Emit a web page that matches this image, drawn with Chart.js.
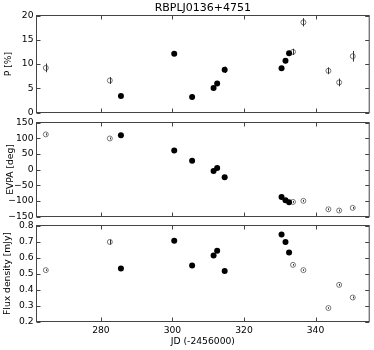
<!DOCTYPE html>
<html>
<head>
<meta charset="utf-8">
<script src="https://cdn.jsdelivr.net/npm/chart.js@4.4.0/dist/chart.umd.min.js"></script>
<style>
    html, body { margin: 0; padding: 0; background: #fff; }
    #wrap { position: relative; width: 374px; height: 350px; }
    #wrap canvas { position: absolute; left: 0; top: 0; }
</style>
</head>
<body>
<div id="wrap">
    <canvas id="polChart" width="374" height="350"></canvas>
    <canvas id="evpaChart" width="374" height="350"></canvas>
    <canvas id="fluxChart" width="374" height="350"></canvas>
</div>
<script>
// observing epochs, JD - 2456000
const jd = [264.6, 282.5, 285.6, 300.5, 305.5, 311.5, 312.5, 314.6, 330.5, 331.6, 332.6, 333.7, 336.6, 343.6, 346.6, 350.4];
// 1 = filled marker, 0 = open marker
const filled = [0, 0, 1, 1, 1, 1, 1, 1, 1, 1, 1, 0, 0, 0, 0, 0];

const pol = [9.2, 6.6, 3.4, 12.1, 3.2, 5.05, 6.0, 8.8, 9.1, 10.65, 12.2, 12.5, 18.6, 8.6, 6.2, 11.6];
const polErr = [0.9, 0.7, 0.4, 0.4, 0.4, 0.4, 0.5, 0.65, 0.5, 0.5, 0.5, 0.65, 0.85, 0.7, 0.8, 1.1];

const evpa = [112, 99, 109, 61, 28, -5, 5, -25, -88, -98, -104.5, -103.5, -100, -127, -131, -122.5];
const evpaErr = [3, 3, 2, 2, 2, 2, 2, 2, 2, 2, 2, 3, 3, 3, 3, 3];

const flux = [0.521, 0.697, 0.531, 0.704, 0.55, 0.613, 0.642, 0.515, 0.743, 0.697, 0.631, 0.554, 0.521, 0.284, 0.429, 0.35];
const fluxErr = [0.005, 0.015, 0.005, 0.005, 0.005, 0.005, 0.005, 0.005, 0.005, 0.005, 0.005, 0.005, 0.005, 0.005, 0.006, 0.006];

const xTicks = [280, 300, 320, 340];
const polTicks = [0, 5, 10, 15, 20];
const evpaTicks = [-150, -100, -50, 0, 50, 100, 150];
const evpaTickLabels = ["\u2212150", "\u2212100", "\u221250", "0", "50", "100", "150"];
const fluxTicks = [0.2, 0.3, 0.4, 0.5, 0.6, 0.7, 0.8];
const fluxTickLabels = ["0.2", "0.3", "0.4", "0.5", "0.6", "0.7", "0.8"];

const FONT = "'DejaVu Sans', sans-serif";
const FRAME = "#444";

// matplotlib-like box with inward ticks on all four sides
const framePlugin = {
    id: "frame",
    afterDraw(chart) {
        const { ctx, chartArea: a, scales } = chart;
        const len = 4;

        ctx.save();
        ctx.strokeStyle = FRAME;
        ctx.lineWidth = 1;
        ctx.strokeRect(a.left, a.top, a.right - a.left, a.bottom - a.top);

        ctx.beginPath();
        scales.x.ticks.forEach((t) => {
            const x = Math.round(scales.x.getPixelForValue(t.value)) + 0.5;
            ctx.moveTo(x, a.top);
            ctx.lineTo(x, a.top + len);
            ctx.moveTo(x, a.bottom);
            ctx.lineTo(x, a.bottom - len);
        });
        scales.y.ticks.forEach((t) => {
            const y = Math.round(scales.y.getPixelForValue(t.value)) + 0.5;
            ctx.moveTo(a.left, y);
            ctx.lineTo(a.left + len, y);
            ctx.moveTo(a.right, y);
            ctx.lineTo(a.right - len, y);
        });
        ctx.stroke();
        ctx.restore();
    },
};

// vertical error bars drawn through the library's scales
const errorBarPlugin = {
    id: "errorBars",
    afterDatasetsDraw(chart) {
        const { ctx, scales } = chart;

        ctx.save();
        ctx.lineWidth = 1;
        chart.data.datasets.forEach((ds) => {
            ctx.strokeStyle = ds.errColor;
            ctx.beginPath();
            ds.data.forEach((p) => {
                const x = Math.round(scales.x.getPixelForValue(p.x)) + 0.5;
                ctx.moveTo(x, scales.y.getPixelForValue(p.y - p.err));
                ctx.lineTo(x, scales.y.getPixelForValue(p.y + p.err));
            });
            ctx.stroke();
        });
        ctx.restore();
    },
};

function points(values, errors, kind) {
    return jd
        .map((x, i) => ({ x: x, y: values[i], err: errors[i], f: filled[i] }))
        .filter((p) => p.f === kind);
}

function makePanel(id, cfg) {
    const yTickLabels = cfg.tickLabels;

    new Chart(document.getElementById(id), {
        type: "scatter",

        data: {
            datasets: [
                {
                    data: points(cfg.values, cfg.errors, 1),
                    pointRadius: 3,
                    pointBackgroundColor: "#000",
                    pointBorderColor: "#000",
                    pointBorderWidth: 0,
                    errColor: "#000",
                },
                {
                    data: points(cfg.values, cfg.errors, 0),
                    pointRadius: 2.5,
                    pointBackgroundColor: "rgba(255,255,255,0)",
                    pointBorderColor: "#555",
                    pointBorderWidth: 0.8,
                    errColor: "#333",
                },
            ],
        },

        options: {
            responsive: false,
            animation: false,
            events: [],

            layout: {
                padding: cfg.padding,
            },

            plugins: {
                legend: { display: false },
                tooltip: { enabled: false },
                title: cfg.title
                    ? {
                          display: true,
                          fullSize: false,
                          text: cfg.title,
                          color: "#000",
                          font: { family: FONT, size: 11, weight: "normal" },
                          padding: { top: 1.6, bottom: 0.7 },
                      }
                    : { display: false },
            },

            scales: {
                x: {
                    type: "linear",
                    min: 262,
                    max: 355,
                    display: cfg.showX,
                    afterBuildTicks: (s) => {
                        s.ticks = xTicks.map((v) => ({ value: v }));
                    },
                    afterFit: (s) => {
                        if (cfg.showX) s.height = 28.5;
                    },
                    grid: { display: false, drawTicks: false },
                    border: { display: false },
                    ticks: {
                        padding: 3.5,
                        color: "#000",
                        font: { family: FONT, size: 9.2 },
                        callback: (v) => String(v),
                    },
                    title: {
                        display: cfg.showX,
                        text: "JD (-2456000)",
                        color: "#000",
                        font: { family: FONT, size: 9.2 },
                        padding: { top: 0, bottom: 3 },
                    },
                },

                y: {
                    min: cfg.min,
                    max: cfg.max,
                    afterBuildTicks: (s) => {
                        s.ticks = cfg.ticks.map((v) => ({ value: v }));
                    },
                    afterFit: (s) => {
                        s.width = 36.5;
                    },
                    grid: { display: false, drawTicks: false },
                    border: { display: false },
                    ticks: {
                        padding: 3,
                        color: "#000",
                        font: { family: FONT, size: 9.2 },
                        callback: (v, i) => yTickLabels[i],
                    },
                    title: {
                        display: true,
                        text: cfg.label,
                        color: "#000",
                        font: { family: FONT, size: 9.2 },
                        padding: { top: cfg.labelPad, bottom: 0 },
                    },
                },
            },
        },

        plugins: [errorBarPlugin, framePlugin],
    });
}

makePanel("polChart", {
    title: "RBPLJ0136+4751",
    values: pol,
    errors: polErr,
    min: 0,
    max: 20,
    ticks: polTicks,
    tickLabels: polTicks.map(String),
    label: "P [%]",
    labelPad: 3.5,
    showX: false,
    padding: { top: 0, bottom: 237.5, left: 0, right: 4.5 },
});

makePanel("evpaChart", {
    values: evpa,
    errors: evpaErr,
    min: -150,
    max: 150,
    ticks: evpaTicks,
    tickLabels: evpaTickLabels,
    label: "EVPA [deg]",
    labelPad: 5.5,
    showX: false,
    padding: { top: 122.5, bottom: 133.5, left: 0, right: 4.5 },
});

makePanel("fluxChart", {
    values: flux,
    errors: fluxErr,
    min: 0.2,
    max: 0.8,
    ticks: fluxTicks,
    tickLabels: fluxTickLabels,
    label: "Flux density [mJy]",
    labelPad: 2.5,
    showX: true,
    padding: { top: 225.5, bottom: 0, left: 0, right: 4.5 },
});
</script>
</body>
</html>
